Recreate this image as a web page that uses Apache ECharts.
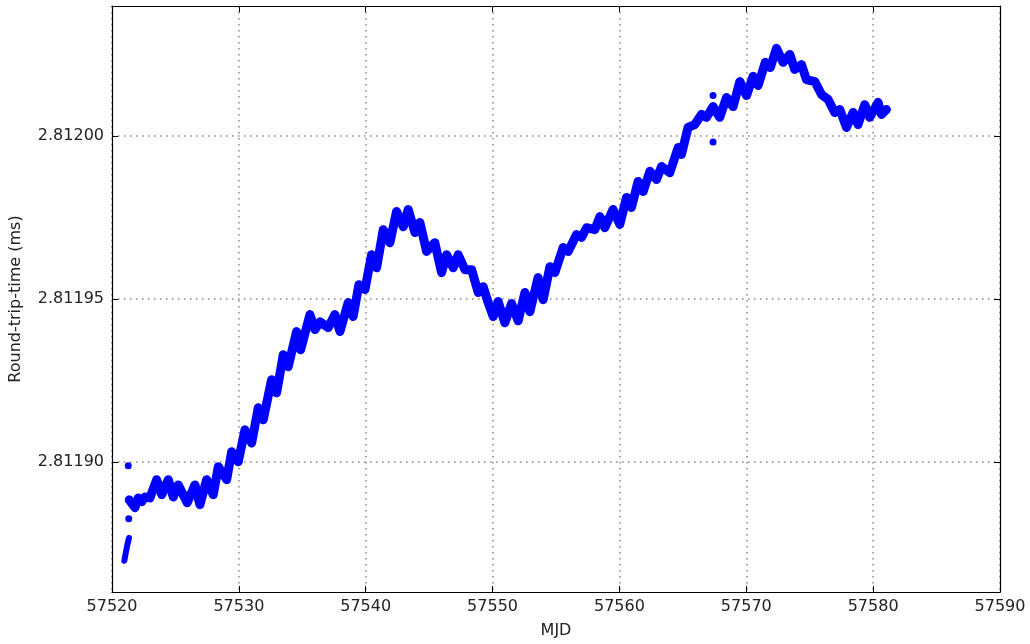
<!DOCTYPE html>
<html>
<head>
<meta charset="utf-8">
<script src="https://cdn.jsdelivr.net/npm/echarts@6/dist/echarts.min.js"></script>
<style>
  html, body { margin: 0; padding: 0; background: #fff; }
  #chart { width: 1030px; height: 644px; }
</style>
</head>
<body>
<div id="chart"></div>
<script>
// Round-trip-time measurements versus Modified Julian Date
const bandMjd = [
  57521.36, 57521.81, 57522.07, 57522.34, 57522.60, 57522.99, 57523.52, 57523.92, 57524.44, 57524.83,
  57525.22, 57525.93, 57526.54, 57526.93, 57527.46, 57527.98, 57528.38, 57529.04, 57529.43, 57529.95,
  57530.48, 57531.01, 57531.53, 57531.92, 57532.58, 57532.98, 57533.50, 57533.89, 57534.55, 57534.87,
  57535.60, 57536.00, 57536.39, 57537.04, 57537.57, 57537.97, 57538.62, 57539.01, 57539.46, 57539.94,
  57540.46, 57540.86, 57541.38, 57541.91, 57542.43, 57542.96, 57543.35, 57543.88, 57544.27, 57544.80,
  57545.45, 57545.98, 57546.38, 57546.90, 57547.29, 57547.82, 57548.35, 57548.87, 57549.26, 57549.65,
  57550.05, 57550.44, 57550.97, 57551.50, 57552.02, 57552.55, 57552.94, 57553.59, 57553.99, 57554.52,
  57554.91, 57555.56, 57555.96, 57556.62, 57557.01, 57557.41, 57558.06, 57558.46, 57558.85, 57559.50,
  57560.03, 57560.56, 57560.95, 57561.47, 57561.87, 57562.40, 57562.92, 57563.32, 57563.97, 57564.63,
  57564.89, 57565.41, 57565.94, 57566.47, 57566.86, 57567.38, 57567.91, 57568.44, 57568.96, 57569.49,
  57570.02, 57570.54, 57570.93, 57571.50, 57571.89, 57572.38, 57572.90, 57573.43, 57573.82, 57574.35,
  57574.74, 57575.40, 57575.93, 57576.45, 57576.97, 57577.37, 57577.90, 57578.42, 57578.81, 57579.34,
  57579.73, 57580.39, 57580.65, 57581.05
];
const bandRtt = [
  2.8118883, 2.8118859, 2.8118889, 2.8118877, 2.8118892, 2.8118889, 2.8118945, 2.8118899, 2.8118945, 2.8118892,
  2.8118929, 2.8118874, 2.8118929, 2.8118868, 2.8118945, 2.8118899, 2.8118985, 2.8118945, 2.8119031, 2.8119000,
  2.8119098, 2.8119058, 2.8119166, 2.8119129, 2.8119252, 2.8119212, 2.8119329, 2.8119292, 2.8119400, 2.8119344,
  2.8119452, 2.8119406, 2.8119430, 2.8119412, 2.8119452, 2.8119400, 2.8119489, 2.8119446, 2.8119544, 2.8119529,
  2.8119636, 2.8119596, 2.8119713, 2.8119673, 2.8119769, 2.8119722, 2.8119775, 2.8119704, 2.8119735, 2.8119646,
  2.8119673, 2.8119581, 2.8119636, 2.8119596, 2.8119636, 2.8119590, 2.8119590, 2.8119520, 2.8119538, 2.8119489,
  2.8119446, 2.8119492, 2.8119427, 2.8119486, 2.8119433, 2.8119520, 2.8119461, 2.8119566, 2.8119498, 2.8119599,
  2.8119581, 2.8119658, 2.8119646, 2.8119698, 2.8119689, 2.8119719, 2.8119713, 2.8119753, 2.8119719, 2.8119775,
  2.8119729, 2.8119812, 2.8119781, 2.8119861, 2.8119830, 2.8119892, 2.8119867, 2.8119907, 2.8119888, 2.8119965,
  2.8119944, 2.8120027, 2.8120036, 2.8120067, 2.8120058, 2.8120091, 2.8120058, 2.8120119, 2.8120091, 2.8120168,
  2.8120125, 2.8120184, 2.8120156, 2.8120227, 2.8120211, 2.8120270, 2.8120227, 2.8120251, 2.8120205, 2.8120220,
  2.8120174, 2.8120168, 2.8120128, 2.8120113, 2.8120073, 2.8120082, 2.8120027, 2.8120073, 2.8120036, 2.8120097,
  2.8120058, 2.8120104, 2.8120067, 2.8120082
];
// first readings after start-up
const startMjd = [57520.97, 57521.10, 57521.21, 57521.34];
const startRtt = [2.8118696, 2.8118723, 2.8118745, 2.8118766];
// isolated readings
const outlierMjd = [57521.28, 57521.32, 57567.38, 57567.38];
const outlierRtt = [2.8118988, 2.8118825, 2.8120125, 2.8119982];

const xTicks = [57520, 57530, 57540, 57550, 57560, 57570, 57580, 57590];
const yTicks = [2.81190, 2.81195, 2.81200];

const pairs = (xs, ys) => xs.map((x, i) => [x, ys[i]]);

const FONT = 'DejaVu Sans';
const BLUE = '#0000ff';
const gridLine = { show: true, lineStyle: { color: '#888', width: 1.5, type: [1.5, 4.5] } };
const innerTick = { show: true, inside: true, length: 6, lineStyle: { color: '#000', width: 1 } };
const frameLine = { show: true, onZero: false, lineStyle: { color: '#000', width: 1.2 } };

const chart = echarts.init(document.getElementById('chart'), null, { renderer: 'canvas' });
chart.setOption({
  backgroundColor: '#fff',
  animation: false,
  grid: { left: 112, right: 30, top: 6, bottom: 50, containLabel: false },
  xAxis: [
    {
      type: 'value', min: xTicks[0], max: xTicks[xTicks.length - 1], interval: 10,
      name: 'MJD', nameLocation: 'middle', nameGap: 31,
      nameTextStyle: { fontFamily: FONT, fontSize: 16, color: '#222' },
      axisLine: frameLine, axisTick: innerTick, splitLine: gridLine,
      axisLabel: { fontFamily: FONT, fontSize: 16, color: '#222', margin: 7, formatter: v => String(v) }
    },
    {
      type: 'value', position: 'top', min: xTicks[0], max: xTicks[xTicks.length - 1], interval: 10,
      axisLine: frameLine, axisTick: innerTick, splitLine: { show: false }, axisLabel: { show: false }
    }
  ],
  yAxis: [
    {
      type: 'value', min: 2.81186, max: 2.81204,
      name: 'Round-trip-time (ms)', nameLocation: 'middle', nameGap: 88,
      nameTextStyle: { fontFamily: FONT, fontSize: 16, color: '#222' },
      axisLine: frameLine,
      axisTick: Object.assign({ customValues: yTicks }, innerTick),
      splitLine: gridLine,
      axisLabel: { customValues: yTicks, fontFamily: FONT, fontSize: 16, color: '#222', margin: 8,
                   formatter: v => Number(v).toFixed(5) }
    },
    {
      type: 'value', position: 'right', min: 2.81186, max: 2.81204,
      axisLine: frameLine,
      axisTick: Object.assign({ customValues: yTicks }, innerTick),
      splitLine: { show: false }, axisLabel: { show: false }
    }
  ],
  series: [
    {
      type: 'line', data: pairs(bandMjd, bandRtt), showSymbol: false, smooth: false,
      lineStyle: { color: BLUE, width: 9, cap: 'round', join: 'round' }, z: 3
    },
    {
      type: 'line', data: pairs(startMjd, startRtt), showSymbol: false,
      lineStyle: { color: BLUE, width: 6, cap: 'round', join: 'round' }, z: 3
    },
    {
      type: 'scatter', data: pairs(outlierMjd, outlierRtt), symbol: 'circle', symbolSize: 7,
      itemStyle: { color: BLUE, opacity: 1 }, z: 3
    }
  ]
});
</script>
</body>
</html>
